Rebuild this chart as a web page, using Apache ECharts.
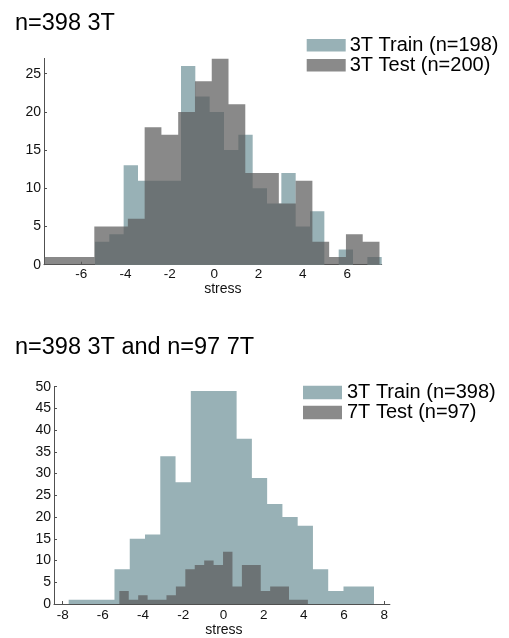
<!DOCTYPE html>
<html>
<head>
<meta charset="utf-8">
<script src="https://cdn.jsdelivr.net/npm/echarts@6/dist/echarts.min.js"></script>
<style>
html,body{margin:0;padding:0;background:#fff;}
#chart{width:509px;height:638px;}
</style>
</head>
<body>
<div id="chart"></div>
<script>
// ---------- data ----------
// Top panel: 3T train / 3T test histograms (bin start, bin width, counts)
const train3TStart = -5.38;
const train3TWidth = 0.647;
const train3TCounts = [3, 4, 13, 11, 11, 11, 26, 22, 20, 15, 17, 10, 8, 12, 5, 7, 0, 2, 0, 1];

const test3TStart = -7.68;
const test3TWidth = 0.757;
const test3TCounts = [1, 1, 1, 5, 5, 6, 18, 17, 20, 24, 27, 21, 12, 12, 8, 11, 3, 1, 4, 3];

// Bottom panel: 3T train (n=398) / 7T test (n=97)
const train398Start = -7.70;
const train398Width = 0.7595;
const train398Counts = [1, 1, 1, 8, 15, 16, 34, 28, 49, 49, 49, 38, 29, 23, 20, 18, 8, 3, 4, 4];

const test7TStart = -5.18;
const test7TWidth = 0.469;
const test7TCounts = [3, 1, 2, 1, 1, 2, 4, 8, 9, 10, 9, 12, 4, 9, 9, 3, 4, 4, 1, 1];

// tick labels
const topXTicks = [-6, -4, -2, 0, 2, 4, 6];
const topYTicks = [0, 5, 10, 15, 20, 25];
const botXTicks = [-8, -6, -4, -2, 0, 2, 4, 6, 8];
const botYTicks = [0, 5, 10, 15, 20, 25, 30, 35, 40, 45, 50];

const titles = ['n=398 3T', 'n=398 3T and n=97 7T'];
const seriesNames = ['3T Train (n=198)', '3T Test (n=200)', '3T Train (n=398)', '7T Test (n=97)'];

// ---------- helpers ----------
function stepData(start, width, counts) {
  const pts = [[start, 0]];
  counts.forEach((c, i) => pts.push([start + i * width, c]));
  const end = start + counts.length * width;
  pts.push([end, counts[counts.length - 1]]);
  pts.push([end, 0]);
  return pts;
}

const FONT = '"Liberation Sans", Arial, Helvetica, sans-serif';
const TEAL = '#98b1b6';
const GRAYFILL = '#5c5c5c';
const GRAYLEG = '#8a8a8a';
const AXIS = '#505050';

function xAxis(gridIndex, min, max, ticks, nameGap, namePad, labelMargin) {
  return {
    type: 'value', gridIndex, min, max,
    name: 'stress', nameLocation: 'middle', nameGap,
    nameTextStyle: { fontFamily: FONT, fontSize: 14, color: '#111', padding: namePad },
    axisLine: { show: true, onZero: false, lineStyle: { color: AXIS, width: 1 } },
    axisTick: { show: true, inside: true, length: 3, customValues: ticks, lineStyle: { color: AXIS } },
    axisLabel: { customValues: ticks, fontFamily: FONT, fontSize: 13.5, color: '#111', margin: labelMargin },
    splitLine: { show: false }
  };
}
function yAxis(gridIndex, max, ticks) {
  return {
    type: 'value', gridIndex, min: 0, max,
    axisLine: { show: true, onZero: false, lineStyle: { color: AXIS, width: 1 } },
    axisTick: { show: true, inside: true, length: 3, customValues: ticks, lineStyle: { color: AXIS } },
    axisLabel: { customValues: ticks, fontFamily: FONT, fontSize: 14, color: '#111', margin: 3 },
    splitLine: { show: false }
  };
}
function histSeries(name, xi, data, color, opacity) {
  return {
    name, type: 'line', xAxisIndex: xi, yAxisIndex: xi,
    step: 'end', data, showSymbol: false, symbol: 'none',
    color,
    lineStyle: { width: 0, opacity: 0 },
    areaStyle: { color, opacity },
    emphasis: { disabled: true },
    silent: true
  };
}

const chart = echarts.init(document.getElementById('chart'), null, { renderer: 'canvas' });
chart.setOption({
  animation: false,
  backgroundColor: '#fff',
  title: [
    { text: titles[0], left: 15, top: 11.5, padding: 0,
      textStyle: { fontFamily: FONT, fontSize: 23.5, fontWeight: 'normal', color: '#000' } },
    { text: titles[1], left: 15, top: 335.5, padding: 0,
      textStyle: { fontFamily: FONT, fontSize: 23.5, fontWeight: 'normal', color: '#000' } }
  ],
  legend: [
    { data: [ { name: seriesNames[0], itemStyle: { color: TEAL, opacity: 1 } },
              { name: seriesNames[1], itemStyle: { color: GRAYLEG, opacity: 1 } } ],
      orient: 'vertical', left: 306.7, top: 35.3, padding: 0, itemGap: 0,
      itemWidth: 39, itemHeight: 12.5, icon: 'rect', selectedMode: false,
      textStyle: { fontFamily: FONT, fontSize: 20, lineHeight: 18.3, color: '#000', padding: [0, 0, 0, -1] } },
    { data: [ { name: seriesNames[2], itemStyle: { color: TEAL, opacity: 1 } },
              { name: seriesNames[3], itemStyle: { color: GRAYLEG, opacity: 1 } } ],
      orient: 'vertical', left: 303, top: 382.5, padding: 0, itemGap: 0,
      itemWidth: 39, itemHeight: 13.3, icon: 'rect', selectedMode: false,
      textStyle: { fontFamily: FONT, fontSize: 20, lineHeight: 18.3, color: '#000' } }
  ],
  grid: [
    { left: 44, top: 58.4, width: 337.7, height: 206.3 },
    { left: 54, top: 386.7, width: 335.9, height: 218 }
  ],
  xAxis: [
    xAxis(0, -7.68, 7.56, topXTicks, 17, [0, 0, 0, 20], 3),
    xAxis(1, -8.43, 8.28, botXTicks, 19, [0, 0, 0, 4], 4)
  ],
  yAxis: [
    yAxis(0, 27, topYTicks),
    yAxis(1, 50, botYTicks)
  ],
  series: [
    histSeries(seriesNames[0], 0, stepData(train3TStart, train3TWidth, train3TCounts), TEAL, 1),
    histSeries(seriesNames[1], 0, stepData(test3TStart, test3TWidth, test3TCounts), GRAYFILL, 0.72),
    histSeries(seriesNames[2], 1, stepData(train398Start, train398Width, train398Counts), TEAL, 1),
    histSeries(seriesNames[3], 1, stepData(test7TStart, test7TWidth, test7TCounts), GRAYFILL, 0.72)
  ]
});
</script>
</body>
</html>
